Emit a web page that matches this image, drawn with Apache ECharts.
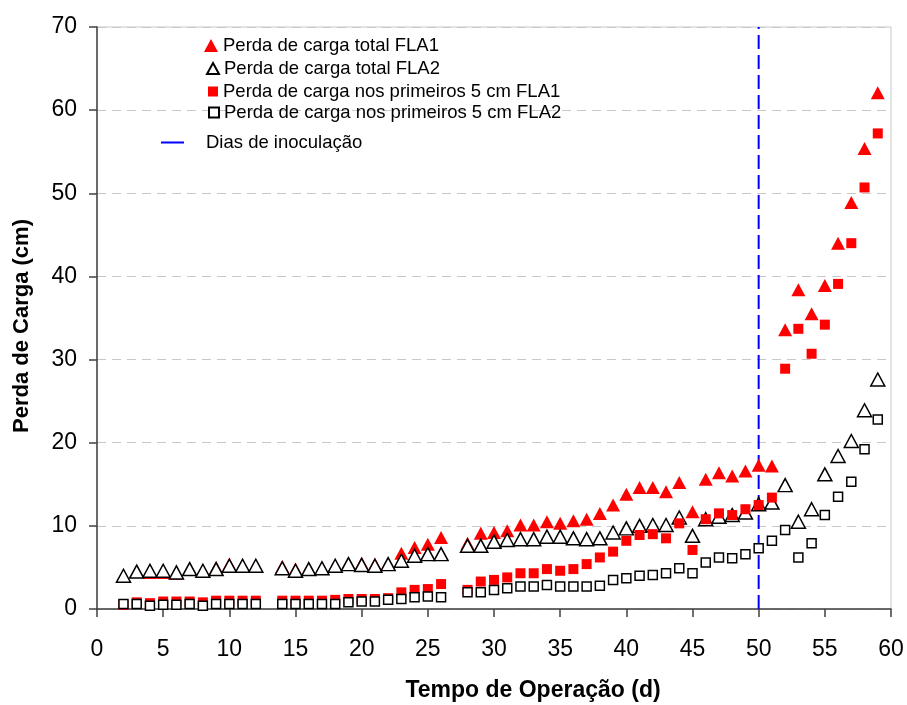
<!DOCTYPE html>
<html>
<head>
<meta charset="utf-8">
<title>Perda de carga</title>
<script src="https://cdn.jsdelivr.net/npm/echarts@6/dist/echarts.min.js"></script>
<style>
  html, body { margin: 0; padding: 0; background: #fff; }
  #chart { width: 907px; height: 705px; }
</style>
</head>
<body>
<div id="chart"></div>
<script>
// dias de operação (faltam os dias 13 e 27)
const dias = [2, 3, 4, 5, 6, 7, 8, 9, 10, 11, 12,
  14, 15, 16, 17, 18, 19, 20, 21, 22, 23, 24, 25, 26,
  28, 29, 30, 31, 32, 33, 34, 35, 36, 37, 38, 39, 40, 41, 42, 43, 44, 45,
  46, 47, 48, 49, 50, 51, 52, 53, 54, 55, 56, 57, 58, 59];

const totalFLA1 = [3.9, 4.5, 4.4, 4.4, 4.3, 4.8, 4.6, 5.0, 5.4, 5.3, 5.3,
  5.1, 4.8, 4.8, 5.0, 5.3, 5.5, 5.5, 5.4, 5.4, 6.7, 7.4, 7.8, 8.6,
  7.9, 9.1, 9.2, 9.4, 10.1, 10.1, 10.5, 10.3, 10.6, 10.8, 11.5, 12.5, 13.8, 14.6, 14.6, 14.1, 15.2, 11.7,
  15.6, 16.4, 16.0, 16.6, 17.3, 17.2, 33.6, 38.4, 35.5, 38.9, 44.0, 48.9, 55.4, 62.1];

const totalFLA2 = [4.0, 4.5, 4.6, 4.6, 4.4, 4.8, 4.6, 4.8, 5.2, 5.2, 5.2,
  4.9, 4.6, 4.8, 4.9, 5.2, 5.4, 5.3, 5.2, 5.4, 5.8, 6.4, 6.6, 6.6,
  7.6, 7.6, 8.1, 8.3, 8.4, 8.4, 8.7, 8.7, 8.5, 8.4, 8.5, 9.2, 9.7, 10.0, 10.1, 10.1, 11.0, 8.8,
  10.8, 11.1, 11.3, 11.6, 12.6, 12.8, 14.9, 10.5, 12.0, 16.2, 18.4, 20.2, 23.9, 27.6];

const primeiros5FLA1 = [0.5, 0.8, 0.7, 0.9, 0.9, 0.9, 0.8, 1.0, 1.0, 1.0, 1.0,
  1.0, 1.0, 1.0, 1.0, 1.1, 1.2, 1.2, 1.2, 1.3, 2.0, 2.3, 2.4, 3.0,
  2.3, 3.3, 3.5, 3.8, 4.3, 4.3, 4.8, 4.6, 4.8, 5.4, 6.2, 6.9, 8.2, 8.9, 9.0, 8.5, 10.3, 7.1,
  10.8, 11.5, 11.3, 12.0, 12.5, 13.4, 28.9, 33.7, 30.7, 34.2, 39.1, 44.0, 50.7, 57.2];

const primeiros5FLA2 = [0.6, 0.6, 0.4, 0.5, 0.5, 0.6, 0.4, 0.6, 0.6, 0.6, 0.6,
  0.6, 0.6, 0.6, 0.6, 0.6, 0.8, 0.9, 0.9, 1.1, 1.2, 1.4, 1.5, 1.4,
  2.0, 2.0, 2.3, 2.5, 2.7, 2.7, 2.9, 2.7, 2.7, 2.7, 2.8, 3.5, 3.7, 4.0, 4.1, 4.3, 4.9, 4.3,
  5.6, 6.2, 6.1, 6.6, 7.3, 8.2, 9.5, 6.2, 7.9, 11.3, 13.5, 15.3, 19.2, 22.8];

const diaInoculacao = 50;
const xTicks = [0, 60, 5];   // min, max, intervalo
const yTicks = [0, 70, 10];

const fonte = "'Liberation Sans', Arial, sans-serif";

function pares(valores) {
  return dias.map((d, i) => [d, valores[i]]);
}

const chart = echarts.init(document.getElementById("chart"));

const nomes = [
  "Perda de carga total FLA1",
  "Perda de carga total FLA2",
  "Perda de carga nos primeiros 5 cm FLA1",
  "Perda de carga nos primeiros 5 cm FLA2",
  "Dias de inoculação"
];

const textoLegenda = { fontFamily: fonte, fontSize: 18.5, color: "#000", lineHeight: 18 };

// uma legenda por item, para controlar o tamanho de cada ícone
const legendas = [
  { name: nomes[0], w: 14, h: 13, top: 31 },
  { name: nomes[1], w: 12, h: 11, top: 54 },
  { name: nomes[2], w: 10, h: 10, top: 77 },
  { name: nomes[3], w: 10, h: 10, top: 98 }
].map(l => ({
  data: [l.name],
  left: 218 - 5 - l.w,
  top: l.top,
  itemWidth: l.w,
  itemHeight: l.h,
  selectedMode: false,
  textStyle: textoLegenda
}));
legendas.push({
  data: [nomes[4]],
  left: 155,
  top: 128,
  itemWidth: 23,
  itemHeight: 14,
  selectedMode: false,
  itemStyle: { opacity: 0 },
  lineStyle: { type: "solid", width: 2 },
  textStyle: Object.assign({}, textoLegenda, { padding: [0, 0, 0, 17] })
});

const option = {
  backgroundColor: "#fff",
  animation: false,
  legend: legendas,
  grid: {
    left: 97,
    right: 16,
    top: 27,
    bottom: 96,
    outerBoundsMode: "none",
    show: true,
    borderColor: "#c8c8c8",
    borderWidth: 1
  },
  xAxis: {
    type: "value",
    min: xTicks[0],
    max: xTicks[1],
    interval: xTicks[2],
    name: "Tempo de Operação (d)",
    nameLocation: "middle",
    nameGap: 70,
    nameTextStyle: { fontFamily: fonte, fontSize: 23, fontWeight: "bold", color: "#000", padding: [0, 0, 0, 78] },
    axisLine: { lineStyle: { color: "#404040", width: 1.5 } },
    axisTick: { show: true, length: 8, lineStyle: { color: "#404040", width: 1.5 } },
    axisLabel: { fontFamily: fonte, fontSize: 23, color: "#000", margin: 29 },
    splitLine: { show: false }
  },
  yAxis: {
    type: "value",
    min: yTicks[0],
    max: yTicks[1],
    interval: yTicks[2],
    name: "Perda de Carga (cm)",
    nameLocation: "middle",
    nameGap: 64,
    nameTextStyle: { fontFamily: fonte, fontSize: 22, fontWeight: "bold", color: "#000", padding: [0, 16, 0, 0] },
    axisLine: { show: true, lineStyle: { color: "#404040", width: 1.5 } },
    axisTick: { show: true, length: 8, lineStyle: { color: "#404040", width: 1.5 } },
    axisLabel: { fontFamily: fonte, fontSize: 23, color: "#000", margin: 20 },
    splitLine: { show: true, lineStyle: { color: "#c8c8c8", width: 1, type: [9, 6] } }
  },
  series: [
    {
      name: nomes[0],
      type: "scatter",
      symbol: "triangle",
      symbolSize: [14, 13],
      itemStyle: { color: "#ff0000", opacity: 1 },
      data: pares(totalFLA1)
    },
    {
      name: nomes[1],
      type: "scatter",
      symbol: "triangle",
      symbolSize: [14, 13],
      itemStyle: { color: "#fff", borderColor: "#000", borderWidth: 1.5, opacity: 1 },
      data: pares(totalFLA2)
    },
    {
      name: nomes[2],
      type: "scatter",
      symbol: "rect",
      symbolSize: 10,
      itemStyle: { color: "#ff0000", opacity: 1 },
      data: pares(primeiros5FLA1)
    },
    {
      name: nomes[3],
      type: "scatter",
      symbol: "rect",
      symbolSize: 9,
      itemStyle: { color: "#fff", borderColor: "#000", borderWidth: 1.5, opacity: 1 },
      data: pares(primeiros5FLA2)
    },
    {
      name: nomes[4],
      type: "line",
      symbol: "none",
      color: "#0000ff",
      lineStyle: { color: "#0000ff", width: 2, type: [14, 6] },
      data: [[diaInoculacao, yTicks[0]], [diaInoculacao, yTicks[1]]],
      z: 1
    }
  ]
};

chart.setOption(option);
</script>
</body>
</html>
